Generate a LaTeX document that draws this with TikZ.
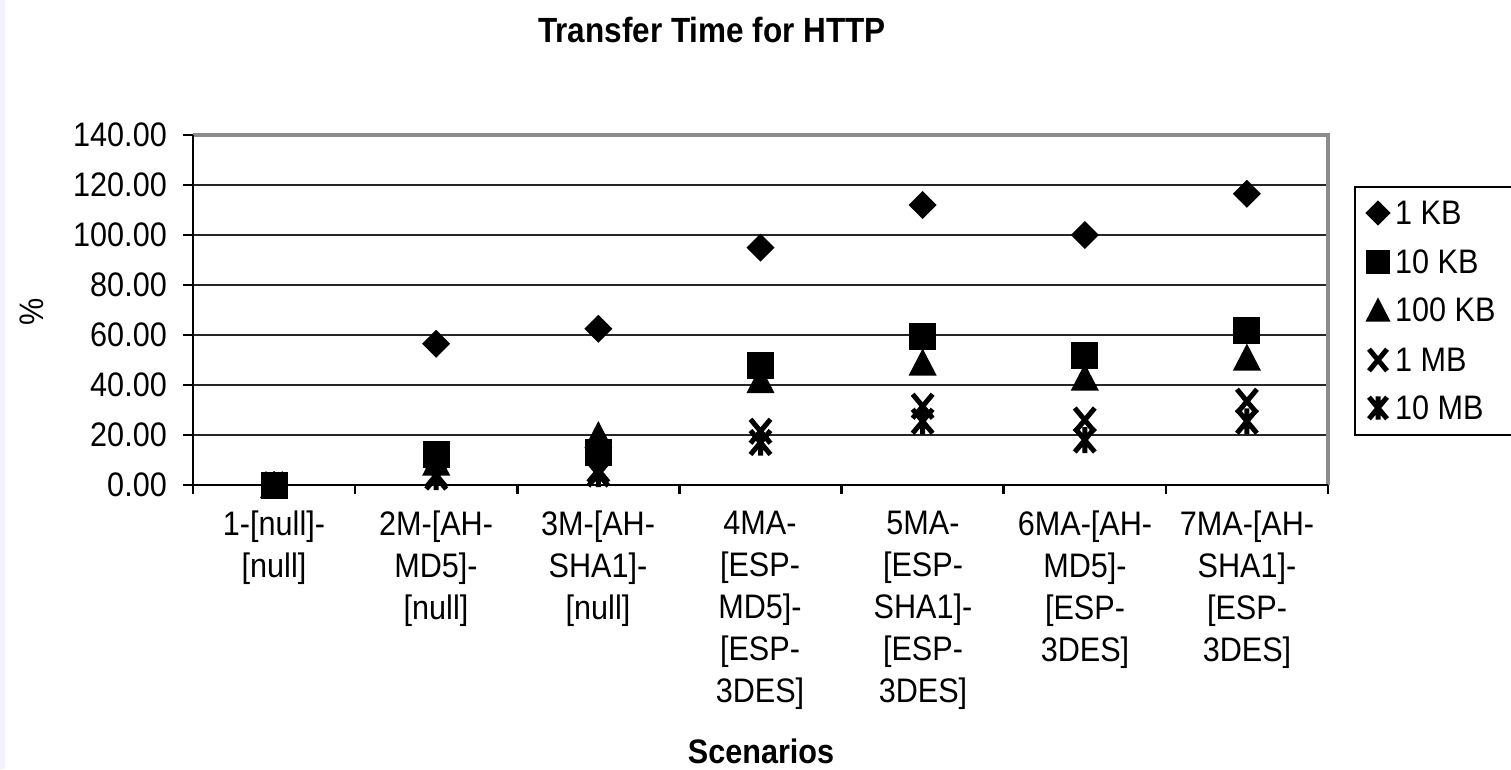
\documentclass[tikz,border=0pt]{standalone}
\usepackage{fontspec}
\setmainfont{Liberation Sans}[FakeStretch=0.9]
\begin{document}
\begin{tikzpicture}[x=1pt,y=-1pt,
  every node/.style={inner sep=0pt, text=black},
  lbl/.style={font=\fontsize{34}{42}\selectfont},
  heading/.style={font=\bfseries\fontsize{35}{42}\selectfont},
  catlbl/.style={lbl, align=center, anchor=north},
  grid line/.style={line width=2pt, black!85},
  frame line/.style={line width=4.5pt, black!45},
  axis line/.style={line width=2.5pt, black},
  legend box/.style={line width=2pt, black},
  xmark line/.style={line width=5pt},
  mk diamond/.pic={\fill (0,-14) -- (14,0) -- (0,14) -- (-14,0) -- cycle;},
  mk square/.pic={\fill (-13.5,-13.5) rectangle (13.5,13.5);},
  mk triangle/.pic={\fill (0,-14) -- (14,13) -- (-14,13) -- cycle;},
  mk cross/.pic={\draw[xmark line] (-10,-12) -- (10,12) (-10,12) -- (10,-12);},
  mk star/.pic={\draw[xmark line] (-10,-12) -- (10,12) (-10,12) -- (10,-12) (0,-13) -- (0,13);},
]
\useasboundingbox (0,0) rectangle (1511,769);
\fill[white] (0,0) rectangle (1511,769);
\fill[blue!5!white] (0,0) rectangle (5,769);

% title
\node[heading] (title) at (712,29.5) {Transfer Time for HTTP};

% horizontal grid lines
\foreach \v in {20,40,...,120}
  \draw[grid line] (193,{485-2.5*\v}) -- (1328,{485-2.5*\v});

% plot frame (top and right) and axes
\draw[frame line] (193,135) -- (1328,135) -- (1328,485);
\draw[axis line] (193,135) -- (193,485) -- (1328,485);
\foreach \v in {0,20,...,140}
  \draw[axis line] (183,{485-2.5*\v}) -- (193,{485-2.5*\v});
\foreach \k in {0,...,7}
  \draw[axis line] ({193+162.14*\k},485) -- ++(0,9);

% value axis labels
\foreach \v/\t in {0/0.00,20/20.00,40/40.00,60/60.00,80/80.00,100/100.00,120/120.00,140/140.00}
  \node[lbl, anchor=east] (yl\v) at (167,{485-2.5*\v}) {\t};
\node[lbl, rotate=90] (ytitle) at (32,312) {\%};

% category labels
\node[catlbl] (c1) at (274,510.5) {1-[null]-\\{}[null]};
\node[catlbl] (c2) at (436,510.5) {2M-[AH-\\MD5]-\\{}[null]};
\node[catlbl] (c3) at (598,510.5) {3M-[AH-\\SHA1]-\\{}[null]};
\node[catlbl] (c4) at (760,510.5) {4MA-\\{}[ESP-\\MD5]-\\{}[ESP-\\3DES]};
\node[catlbl] (c5) at (923,510.5) {5MA-\\{}[ESP-\\SHA1]-\\{}[ESP-\\3DES]};
\node[catlbl] (c6) at (1085,510.5) {6MA-[AH-\\MD5]-\\{}[ESP-\\3DES]};
\node[catlbl] (c7) at (1247,510.5) {7MA-[AH-\\SHA1]-\\{}[ESP-\\3DES]};
\node[heading, font=\bfseries\fontsize{34}{40}\selectfont] (xtitle) at (761,751) {Scenarios};

% data: category / 1 KB / 10 KB / 100 KB / 1 MB / 10 MB
\foreach \i/\a/\b/\c/\d/\e in {
    1/0/0/0/0/0,
    2/56.5/12.3/9/4/3.2,
    3/62.5/13/20/6/4.4,
    4/95/48/42/21.5/17,
    5/112/59.5/49/31.5/25.5,
    6/100/52/43/26/18,
    7/116.5/62/51/33.5/25.5}{
  \pgfmathsetmacro\cx{193+162.14*(\i-0.5)}
  \pic at (\cx,{485-2.5*\a}) {mk diamond};
  \pic at (\cx,{485-2.5*\b}) {mk square};
  \pic at (\cx,{485-2.5*\c}) {mk triangle};
  \pic at (\cx,{485-2.5*\d}) {mk cross};
  \pic at (\cx,{485-2.5*\e}) {mk star};
}

% legend
\draw[legend box] (1515,187) -- (1355,187) -- (1355,435) -- (1515,435);
\pic[scale=0.9] at (1378,213) {mk diamond};
\pic[scale=0.9] at (1378,262) {mk square};
\pic[scale=0.9] at (1378,310) {mk triangle};
\pic[scale=0.9] at (1378,360) {mk cross};
\pic[scale=0.9] at (1378,408) {mk star};
\node[lbl, anchor=west] (l1) at (1395,213) {1 KB};
\node[lbl, anchor=west] (l2) at (1395,262) {10 KB};
\node[lbl, anchor=west] (l3) at (1395,310) {100 KB};
\node[lbl, anchor=west] (l4) at (1395,360) {1 MB};
\node[lbl, anchor=west] (l5) at (1395,408) {10 MB};
\end{tikzpicture}
\end{document}
